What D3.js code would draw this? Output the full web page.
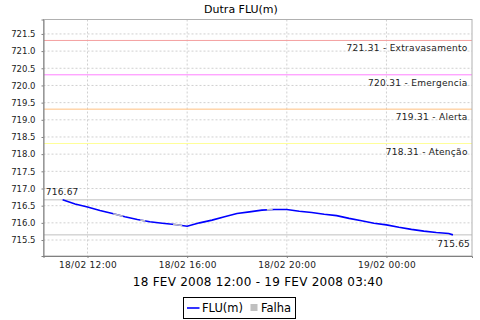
<!DOCTYPE html>
<html>
<head>
<meta charset="utf-8">
<script src="https://cdn.jsdelivr.net/npm/d3@7"></script>
<style>
    body { margin: 0; background: #fff; }
    svg { font-family: "DejaVu Sans", sans-serif; }
</style>
</head>
<body>
<div id="chart"></div>
<script>
// readings, every 30 min (last one at 02:40)
const times = ["2008-02-18 11:00", "2008-02-18 11:30", "2008-02-18 12:00", "2008-02-18 12:30",
    "2008-02-18 13:00", "2008-02-18 13:30", "2008-02-18 14:00", "2008-02-18 14:30",
    "2008-02-18 15:00", "2008-02-18 15:30", "2008-02-18 16:00", "2008-02-18 16:30",
    "2008-02-18 17:00", "2008-02-18 17:30", "2008-02-18 18:00", "2008-02-18 18:30",
    "2008-02-18 19:00", "2008-02-18 19:30", "2008-02-18 20:00", "2008-02-18 20:30",
    "2008-02-18 21:00", "2008-02-18 21:30", "2008-02-18 22:00", "2008-02-18 22:30",
    "2008-02-18 23:00", "2008-02-18 23:30", "2008-02-19 00:00", "2008-02-19 00:30",
    "2008-02-19 01:00", "2008-02-19 01:30", "2008-02-19 02:00", "2008-02-19 02:30",
    "2008-02-19 02:40"];
const flu = [716.67, 716.55, 716.46, 716.36, 716.27, 716.18, 716.10, 716.03,
    715.99, 715.95, 715.90, 716.00, 716.08, 716.18, 716.27, 716.32,
    716.37, 716.39, 716.39, 716.34, 716.30, 716.25, 716.21, 716.13,
    716.06, 715.99, 715.94, 715.87, 715.81, 715.76, 715.72, 715.69,
    715.65];

// gaps (Falha)
const falhaStart = ["2008-02-18 13:02", "2008-02-18 14:07", "2008-02-18 15:26", "2008-02-18 19:12"];
const falhaEnd = ["2008-02-18 13:25", "2008-02-18 14:19", "2008-02-18 15:48", "2008-02-18 19:26"];

// alert levels
const levelValues = [721.31, 720.31, 719.31, 718.31];
const levelNames = ["Extravasamento", "Emergencia", "Alerta", "Atenção"];
const levelColors = ["#f4a0a0", "#ff80ff", "#ffc080", "#ffff99"];

const yTicks = [715.5, 716.0, 716.5, 717.0, 717.5, 718.0, 718.5, 719.0, 719.5, 720.0, 720.5, 721.0, 721.5];
const xDomain = ["2008-02-18 10:14", "2008-02-19 03:26"];
const yDomain = [715.035, 721.92];

const chartTitle = "Dutra FLU(m)";
const subTitle = "18 FEV 2008 12:00 - 19 FEV 2008 03:40";
const legendNames = ["FLU(m)", "Falha"];

const parseTime = d3.timeParse("%Y-%m-%d %H:%M");

class LevelChart {
    constructor(_parentElement) {
        this.parentElement = _parentElement;
        this.initVis();
    }

    initVis() {
        let vis = this;

        vis.margin = { top: 19.5, right: 8, bottom: 64, left: 43.5 };
        vis.width = 480 - vis.margin.left - vis.margin.right;
        vis.height = 320 - vis.margin.top - vis.margin.bottom;

        vis.root = d3.select("#" + vis.parentElement).append("svg")
            .attr("width", 480)
            .attr("height", 320);

        vis.svg = vis.root.append("g")
            .attr("transform", "translate(" + vis.margin.left + "," + vis.margin.top + ")");

        vis.x = d3.scaleTime()
            .domain(xDomain.map(parseTime))
            .range([0, vis.width]);
        vis.y = d3.scaleLinear()
            .domain(yDomain)
            .range([vis.height, 0]);

        vis.wrangleData();
    }

    wrangleData() {
        let vis = this;

        vis.displayData = times.map((t, i) => ({ date: parseTime(t), value: flu[i] }));
        vis.gaps = falhaStart.map((s, i) => ({ start: parseTime(s), end: parseTime(falhaEnd[i]) }));

        vis.updateVis();
    }

    updateVis() {
        let vis = this;

        // title
        vis.root.append("text")
            .attr("x", 241).attr("y", 12.5)
            .attr("text-anchor", "middle")
            .attr("font-size", 11)
            .text(chartTitle);

        // grid
        vis.svg.append("g").selectAll("line")
            .data(yTicks).join("line")
            .attr("x1", 0).attr("x2", vis.width)
            .attr("y1", d => vis.y(d)).attr("y2", d => vis.y(d))
            .attr("stroke", "#d0d0d0").attr("stroke-dasharray", "2,2");

        vis.xTicks = vis.x.ticks(d3.timeHour.every(4));
        vis.svg.append("g").selectAll("line")
            .data(vis.xTicks).join("line")
            .attr("x1", d => vis.x(d)).attr("x2", d => vis.x(d))
            .attr("y1", 0).attr("y2", vis.height)
            .attr("stroke", "#d0d0d0").attr("stroke-dasharray", "2,2");

        // level markers
        vis.svg.append("g").selectAll("line")
            .data(levelValues).join("line")
            .attr("x1", 0).attr("x2", vis.width)
            .attr("y1", d => vis.y(d)).attr("y2", d => vis.y(d))
            .attr("stroke", (d, i) => levelColors[i]).attr("stroke-width", 1);

        vis.svg.append("g").selectAll("text")
            .data(levelValues).join("text")
            .attr("x", vis.width - 4.3)
            .attr("y", d => vis.y(d) + 11)
            .attr("text-anchor", "end")
            .attr("font-size", 9)
            .attr("letter-spacing", 0.3)
            .attr("fill", "#222")
            .text((d, i) => d3.format(".2f")(d) + " - " + levelNames[i]);

        // max / min markers
        let maxV = d3.max(flu), minV = d3.min(flu);
        vis.svg.append("g").selectAll("line")
            .data([maxV, minV]).join("line")
            .attr("x1", 0).attr("x2", vis.width)
            .attr("y1", d => vis.y(d)).attr("y2", d => vis.y(d))
            .attr("stroke", "#c0c0c0");

        vis.svg.append("text")
            .attr("x", 2.3).attr("y", vis.y(maxV) - 4.5)
            .attr("font-size", 9).attr("letter-spacing", 0.2)
            .attr("fill", "#222")
            .text(d3.format(".2f")(maxV));
        vis.svg.append("text")
            .attr("x", vis.width - 2).attr("y", vis.y(minV) + 12.5)
            .attr("text-anchor", "end")
            .attr("font-size", 9).attr("letter-spacing", 0.2)
            .attr("fill", "#222")
            .text(d3.format(".2f")(minV));

        // series
        let line = d3.line()
            .x(d => vis.x(d.date))
            .y(d => vis.y(d.value));

        vis.svg.append("path")
            .datum(vis.displayData)
            .attr("fill", "none")
            .attr("stroke", "#0000ff")
            .attr("stroke-width", 1.6)
            .attr("d", line);

        // gaps drawn in gray over the series
        vis.root.append("defs").append("clipPath").attr("id", "gapClip")
            .selectAll("rect").data(vis.gaps).join("rect")
            .attr("x", d => vis.x(d.start))
            .attr("width", d => vis.x(d.end) - vis.x(d.start))
            .attr("y", 0).attr("height", vis.height);

        vis.svg.append("path")
            .datum(vis.displayData)
            .attr("clip-path", "url(#gapClip)")
            .attr("fill", "none")
            .attr("stroke", "#c0c0c0")
            .attr("stroke-width", 1.6)
            .attr("d", line);

        // outline
        vis.svg.append("rect")
            .attr("width", vis.width).attr("height", vis.height)
            .attr("fill", "none").attr("stroke", "#b0b0b0");

        // axes
        let yAxis = d3.axisLeft(vis.y)
            .tickValues(yTicks)
            .tickFormat(d3.format(".1f"))
            .tickSize(2).tickPadding(6);
        let yg = vis.svg.append("g").call(yAxis);
        yg.select(".domain").attr("stroke", "#808080");
        yg.selectAll(".tick line").attr("stroke", "#808080");
        yg.selectAll("text").attr("font-size", 8.5).attr("font-family", "DejaVu Sans").attr("fill", "#222");

        let xAxis = d3.axisBottom(vis.x)
            .tickValues(vis.xTicks)
            .tickFormat(d3.timeFormat("%d/%m %H:%M"))
            .tickSize(2).tickPadding(4);
        let xg = vis.svg.append("g")
            .attr("transform", "translate(0," + vis.height + ")")
            .call(xAxis);
        xg.select(".domain").attr("stroke", "#808080");
        xg.selectAll(".tick line").attr("stroke", "#808080");
        xg.selectAll("text").attr("font-size", 9).attr("font-family", "DejaVu Sans")
            .attr("letter-spacing", 0.3).attr("fill", "#222");

        // subtitle
        vis.root.append("text")
            .attr("x", 258).attr("y", 286)
            .attr("text-anchor", "middle")
            .attr("font-size", 12)
            .attr("letter-spacing", 0.25)
            .text(subTitle);

        // legend
        let lg = vis.root.append("g").attr("transform", "translate(183.5,297.5)");
        lg.append("rect").attr("width", 112).attr("height", 21)
            .attr("fill", "#fff").attr("stroke", "#000");
        lg.append("line").attr("x1", 3.5).attr("x2", 16).attr("y1", 10.5).attr("y2", 10.5)
            .attr("stroke", "#0000ff").attr("stroke-width", 1.6);
        lg.append("text").attr("x", 18.5).attr("y", 14.5)
            .attr("font-size", 11.5).text(legendNames[0]);
        lg.append("rect").attr("x", 67).attr("y", 6.5).attr("width", 7).attr("height", 7)
            .attr("fill", "#c0c0c0");
        lg.append("text").attr("x", 77.5).attr("y", 14.5)
            .attr("font-size", 11.5).text(legendNames[1]);
    }
}

new LevelChart("chart");
</script>
</body>
</html>
